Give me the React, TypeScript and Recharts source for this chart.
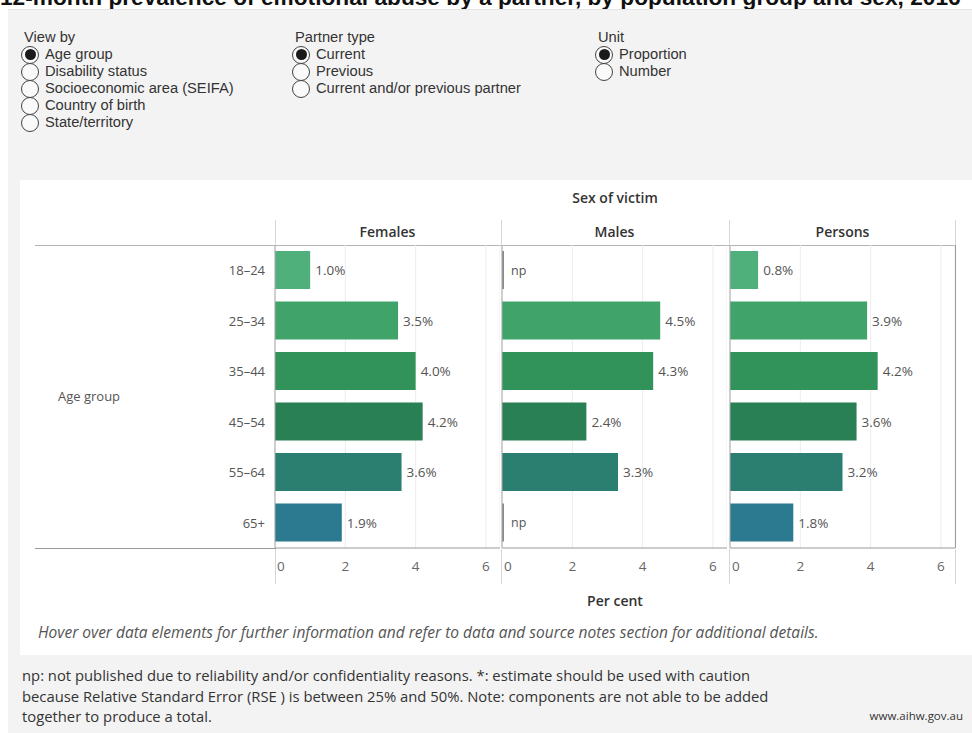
import React from 'react'
import { BarChart, Bar, XAxis, YAxis, CartesianGrid, Cell, LabelList } from 'recharts'

const ageGroups = ['18–24', '25–34', '35–44', '45–54', '55–64', '65+']
const females: (number | null)[] = [1.0, 3.5, 4.0, 4.2, 3.6, 1.9]
const males: (number | null)[] = [null, 4.5, 4.3, 2.4, 3.3, null]
const persons: (number | null)[] = [0.8, 3.9, 4.2, 3.6, 3.2, 1.8]
const xTicks = [0, 2, 4, 6]
const rowColors = ['#50b07b', '#3fa36a', '#31935a', '#2a8055', '#2a7f70', '#2b7a8f']
const npColor = '#8a8a8a'

const viewByOptions = ['Age group', 'Disability status', 'Socioeconomic area (SEIFA)', 'Country of birth', 'State/territory']
const partnerOptions = ['Current', 'Previous', 'Current and/or previous partner']
const unitOptions = ['Proportion', 'Number']
const noteLines = [
  'np: not published due to reliability and/or confidentiality reasons. *: estimate should be used with caution',
  'because Relative Standard Error (RSE ) is between 25% and 50%. Note: components are not able to be added',
  'together to produce a total.',
]

const FONT = '"Open Sans", "Noto Sans", sans-serif'
const PANEL_W = 225
const PLOT_TOP = 245
const PLOT_H = 303

function Radio({ title, options, left }: { title: string; options: string[]; left: number }) {
  return (
    <div style={{ position: 'absolute', left, top: 28, fontSize: 14.7, color: '#333', fontFamily: '"Liberation Sans", Arial, sans-serif' }}>
      <div style={{ height: 18, lineHeight: '18px' }}>{title}</div>
      {options.map((o, i) => (
        <div key={o} style={{ display: 'flex', alignItems: 'center', height: 17, marginLeft: -3 }}>
          <div style={{ width: 18, height: 18, flex: 'none', borderRadius: '50%', border: '1px solid #444', boxSizing: 'border-box', display: 'flex', alignItems: 'center', justifyContent: 'center', background: '#fafafa' }}>
            {i === 0 && <div style={{ width: 11, height: 11, borderRadius: '50%', background: '#1a1a1a' }} />}
          </div>
          <span style={{ marginLeft: 6, lineHeight: '17px', whiteSpace: 'nowrap' }}>{o}</span>
        </div>
      ))}
    </div>
  )
}

const renderLabel = (props: any) => {
  const vb = props.viewBox ?? {}
  const x = props.x ?? vb.x
  const y = props.y ?? vb.y
  const width = props.width ?? vb.width ?? 0
  const height = props.height ?? vb.height
  const cy = y + height / 2
  if (props.value === 'np') {
    return (
      <text x={x + 9} y={cy} dominantBaseline="central" fontSize={12.5} fill="#555" fontFamily={FONT}>np</text>
    )
  }
  return (
    <text x={x + width + 5} y={cy} dominantBaseline="central" fontSize={13.5} fill="#555" fontFamily={FONT}>
      {props.value}
    </text>
  )
}

const XTick = (props: any) => {
  const { x, y, payload } = props
  const first = payload.value === 0
  return (
    <text x={first ? x + 2 : x} y={y + 18} textAnchor={first ? 'start' : 'middle'} dominantBaseline="central" fontSize={13.5} fill="#666" fontFamily={FONT}>
      {payload.value}
    </text>
  )
}

const YTick = (props: any) => {
  const { x, y, payload } = props
  return (
    <text x={x} y={y} textAnchor="end" dominantBaseline="central" fontSize={13} fill="#555" fontFamily={FONT}>
      {payload.value}
    </text>
  )
}

function Panel({ values, left, showRows }: { values: (number | null)[]; left: number; showRows?: boolean }) {
  const data = ageGroups.map((g, i) => ({
    group: g,
    value: values[i] ?? 0,
    label: values[i] == null ? 'np' : `${(values[i] as number).toFixed(1)}%`,
  }))
  const yw = showRows ? 240 : 2
  return (
    <div style={{ position: 'absolute', left: left - yw, top: PLOT_TOP }}>
      <BarChart width={yw + PANEL_W} height={PLOT_H + 36} data={data} layout="vertical" margin={{ top: 0, right: 0, bottom: 0, left: 0 }}>
        <CartesianGrid horizontal={false} stroke="#ececec" />
        <XAxis type="number" domain={[0, 6.4]} ticks={xTicks} interval={0} height={36} tickLine={false} tickSize={0} tickMargin={0} axisLine={{ stroke: '#9a9a9a' }} tick={<XTick />} allowDataOverflow />
        <YAxis type="category" dataKey="group" width={yw} tickLine={false} tickSize={0} tickMargin={10} axisLine={{ stroke: '#a8a8a8' }} tick={showRows ? <YTick /> : false} />
        <Bar dataKey="value" barSize={38} minPointSize={2} isAnimationActive={false} stroke="#8c8c8c" strokeOpacity={0.8} strokeWidth={1}>
          {data.map((d, i) => (
            <Cell key={d.group} fill={d.label === 'np' ? npColor : rowColors[i]} stroke={d.label === 'np' ? 'none' : undefined} />
          ))}
          <LabelList dataKey="label" content={renderLabel} />
        </Bar>
      </BarChart>
    </div>
  )
}

const vLine = (x: number, top: number, h: number, color: string) => (
  <div style={{ position: 'absolute', left: x, top, width: 1, height: h, background: color }} />
)
const hLine = (y: number, left: number, w: number, color: string) => (
  <div style={{ position: 'absolute', left, top: y, width: w, height: 1, background: color }} />
)

const headStyle: React.CSSProperties = { position: 'absolute', textAlign: 'center', fontSize: 14, fontWeight: 600, color: '#333' }

export default function App() {
  const panelLefts = [275, 502, 730]
  const heads = ['Females', 'Males', 'Persons']
  return (
    <div style={{ position: 'absolute', left: 0, top: 0, width: 972, height: 733, background: '#fff', overflow: 'hidden', fontFamily: FONT }}>
      <div style={{ position: 'absolute', left: 0, top: -14, fontFamily: '"Liberation Sans", Arial, sans-serif', fontWeight: 700, fontSize: 22.7, lineHeight: '22px', whiteSpace: 'nowrap', color: '#111' }}>
        12-month prevalence of emotional abuse by a partner, by population group and sex, 2016
      </div>
      <div style={{ position: 'absolute', left: 8, top: 9, width: 964, height: 724, background: '#f3f3f3', borderTop: '1px solid #e4e4e4' }} />
      <Radio title="View by" options={viewByOptions} left={24} />
      <Radio title="Partner type" options={partnerOptions} left={295} />
      <Radio title="Unit" options={unitOptions} left={598} />

      <div style={{ position: 'absolute', left: 20, top: 180, width: 952, height: 475, background: '#fff' }} />

      <div style={{ ...headStyle, left: 275, width: 680, top: 188 }}>Sex of victim</div>
      {heads.map((h, i) => (
        <div key={h} style={{ ...headStyle, left: panelLefts[i], width: PANEL_W, top: 222 }}>{h}</div>
      ))}
      {[275, 501, 729, 955].map((x) => (
        <React.Fragment key={x}>
          {vLine(x, 220, 25, '#d6d6d6')}
          {vLine(x, 549, 35, '#d6d6d6')}
        </React.Fragment>
      ))}
      {hLine(PLOT_TOP, 35, 921, '#b4b4b4')}
      {hLine(PLOT_TOP + PLOT_H, 35, 241, '#9a9a9a')}
      {vLine(955, PLOT_TOP, PLOT_H, '#9a9a9a')}
      <div style={{ position: 'absolute', left: 58, top: 387, fontSize: 13, color: '#555' }}>Age group</div>

      <Panel values={females} left={275} showRows />
      <Panel values={males} left={502} />
      <Panel values={persons} left={730} />

      <div style={{ ...headStyle, left: 275, width: 680, top: 591 }}>Per cent</div>
      <div style={{ position: 'absolute', left: 38, top: 621, fontSize: 15.5, fontStyle: 'italic', color: '#555', whiteSpace: 'nowrap' }}>
        Hover over data elements for further information and refer to data and source notes section for additional details.
      </div>

      <div style={{ position: 'absolute', left: 22, top: 665, fontSize: 14.8, lineHeight: '20.5px', color: '#333', whiteSpace: 'nowrap' }}>
        {noteLines.map((l) => (
          <div key={l}>{l}</div>
        ))}
      </div>
      <div style={{ position: 'absolute', right: 9, top: 706, fontSize: 11.5, lineHeight: '20px', color: '#333' }}>www.aihw.gov.au</div>
    </div>
  )
}
